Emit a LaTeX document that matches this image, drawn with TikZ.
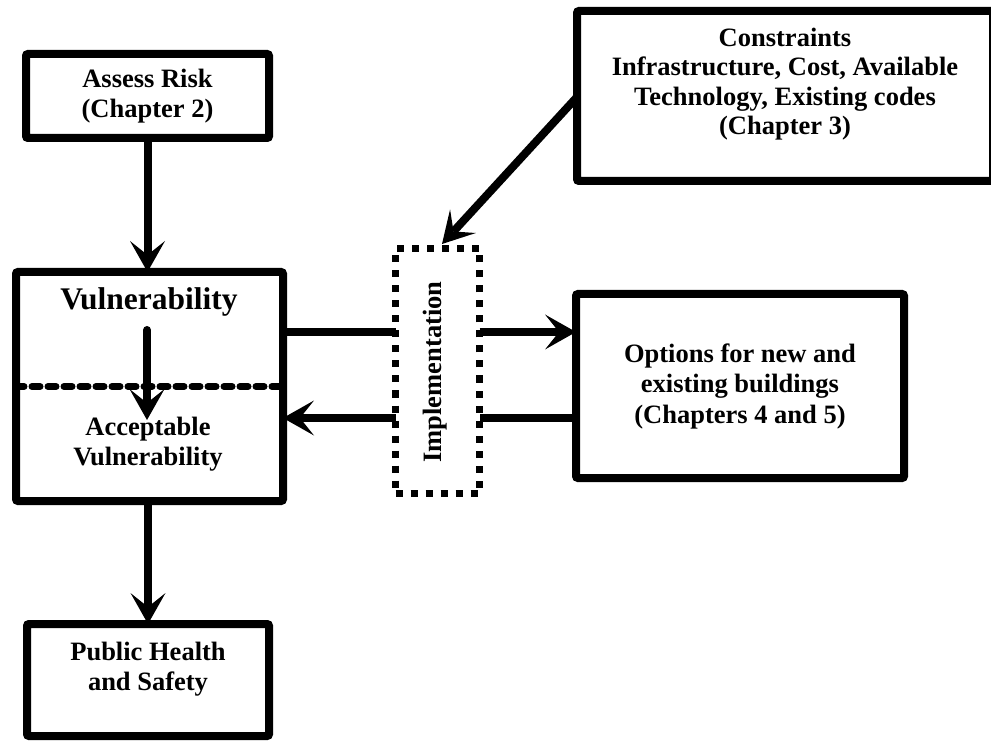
\documentclass[tikz,border=0pt]{standalone}
\usepackage{fontspec}
\setmainfont{Liberation Serif}
\usetikzlibrary{arrows.meta}

\begin{document}
\begin{tikzpicture}[x=1pt,y=-1pt,
caixa/.style={rectangle,draw,line width=8pt,rounded corners=2pt,
outer sep=0pt,inner sep=0pt,align=center,
font=\bfseries\fontsize{26.5}{30.5}\selectfont},
pontilhado/.style={rectangle,draw,line width=7pt,
dash pattern=on 7pt off 8pt,
outer sep=0pt,inner sep=0pt},
texto/.style={align=center,inner sep=0pt,
font=\bfseries\fontsize{26.5}{30}\selectfont},
seta/.style={line width=8pt,
-{Stealth[length=31pt,width=35pt,inset=14pt,line width=0pt]}},
linha/.style={line width=8pt},
separa/.style={line width=7pt,dash pattern=on 8pt off 8pt,line cap=round}
]
\useasboundingbox (0,0) rectangle (991,743);

% caixas
\node[caixa,minimum width=243pt,minimum height=84pt] (risk) at (147.5,96) {Assess Risk\\(Chapter 2)};
\node[caixa,minimum width=267pt,minimum height=229pt] (vul) at (149.5,386.5) {};
\node[caixa,minimum width=242pt,minimum height=112pt] (health) at (148,680) {};
\node[caixa,minimum width=328pt,minimum height=184pt] (opt) at (740,386) {Options for new and\\existing buildings\\(Chapters 4 and 5)};
\node[caixa,minimum width=416pt,minimum height=170pt] (cons) at (785,96) {};
\node[pontilhado,minimum width=84pt,minimum height=245pt] (impl) at (437.5,371) {};

% textos
\node[texto,font=\bfseries\fontsize{31.5}{34}\selectfont] (vultxt) at (149,302) {Vulnerability};
\node[texto] (acctxt) at (148,444) {Acceptable\\Vulnerability};
\node[texto] (healthtxt) at (148,669) {Public Health\\and Safety};
\node[texto,font=\bfseries\fontsize{26.5}{29.5}\selectfont] (constxt) at (785,84) {Constraints\\Infrastructure, Cost, Available\\Technology, Existing codes\\(Chapter 3)};
\node[texto,rotate=90] (impltxt) at (435,372) {Implementation};

% ligacoes
\coordinate (hi) at (0,332);
\coordinate (lo) at (0,418);
\coordinate (top) at (147,330);
\coordinate (bot) at (147,420);
\coordinate (alvo) at (442,244);
\draw[separa] (vul.west) -- (vul.east);
\draw[seta,line cap=round] (top) -- (bot);
\draw[seta] (risk.south) -- (risk.south |- vul.north);
\draw[seta] (vul.south -| health.north) -- (health.north);
\draw[linha] (vul.east |- hi) -- (impl.west |- hi);
\draw[seta] (impl.east |- hi) -- (opt.west |- hi);
\draw[linha] (opt.west |- lo) -- (impl.east |- lo);
\draw[seta] (impl.west |- lo) -- (vul.east |- lo);
\draw[seta] (cons.west |- 0,97) -- (alvo);

\end{tikzpicture}
\end{document}
